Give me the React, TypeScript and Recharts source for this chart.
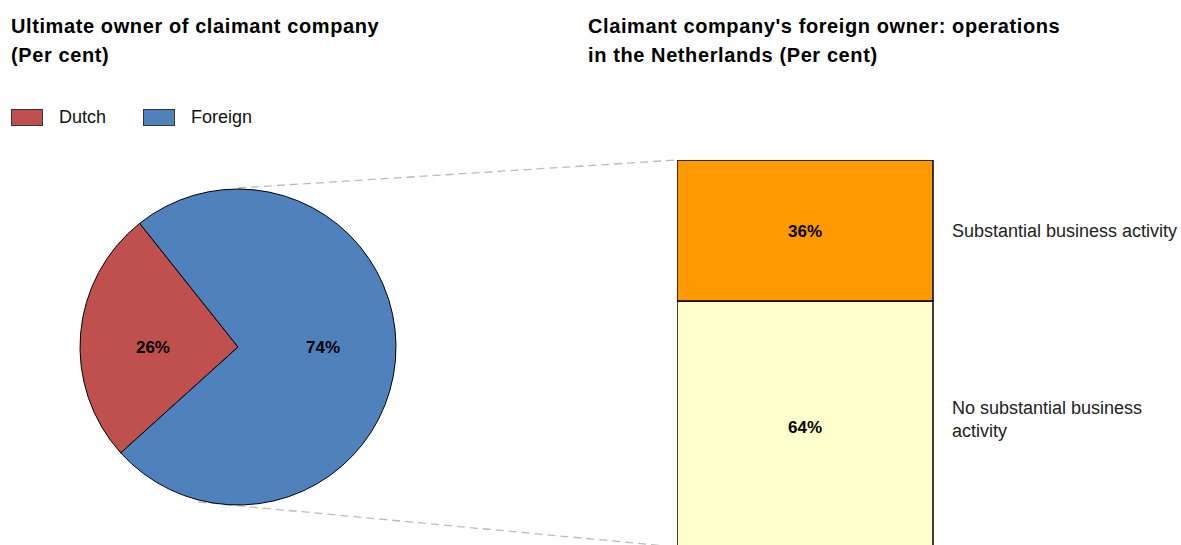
import { PieChart, Pie, Cell, Legend, BarChart, Bar, XAxis, YAxis, LabelList } from "recharts"

// Left panel: ultimate owner of claimant company
const ownerNames = ["Dutch", "Foreign"]
const ownerShares = [26, 74]
const ownerColors = ["#C0504D", "#4F81BD"]

// Right panel: foreign owner's operations in the Netherlands (bottom to top)
const activityKeys = ["none", "substantial"]
const activityLabelLines = [["No substantial business", "activity"], ["Substantial business activity"]]
const activityShares = [64, 36]
const activityColors = ["#FFFFCC", "#FF9900"]

const titles = [
  "Ultimate owner of claimant company\n(Per cent)",
  "Claimant company's foreign owner: operations\nin the Netherlands (Per cent)",
]

const FONT = '"Liberation Sans", Arial, Helvetica, sans-serif'

// layout
const PIE_CX = 238
const PIE_CY = 347
const PIE_R = 158
const LEGEND_H = 20 // legend at top pushes the pie's offset down by its height
const BAR_LEFT = 677
const BAR_TOP = 160
const BAR_W = 256
const BAR_H = 392
const CHART_W = 504
const LINE_H = 23

const pieData = ownerNames.map((name, i) => ({ name, value: ownerShares[i] }))
const barData = [
  activityKeys.reduce(
    (row, k, i) => ({ ...row, [k]: activityShares[i] }),
    { name: "Foreign owner" } as Record<string, string | number>
  ),
]

const RAD = Math.PI / 180

function PieLabel(props: any) {
  const { cx, cy, midAngle, outerRadius, value } = props
  const x = cx + outerRadius * 0.54 * Math.cos(-midAngle * RAD)
  return (
    <text x={x} y={cy} textAnchor="middle" dominantBaseline="central" fontWeight="bold" fontSize={17} fill="#000" fontFamily={FONT}>
      {value}%
    </text>
  )
}

function renderLegend() {
  return (
    <div style={{ display: "flex", height: LEGEND_H, fontFamily: FONT, fontSize: 18, color: "#111", lineHeight: "20px" }}>
      {ownerNames.map((n, i) => (
        <div key={n} style={{ display: "flex", alignItems: "center", marginLeft: i === 0 ? 11 : 0, marginRight: 37 }}>
          <span style={{ display: "inline-block", width: 30, height: 15, background: ownerColors[i], border: "1px solid #333", marginRight: 16 }} />
          <span>{n}</span>
        </div>
      ))}
    </div>
  )
}

function sideLabel(lines: string[]) {
  return (props: any) => {
    const { x, y, width, height } = props
    const n = lines.length
    const mid = Number(y) + Number(height) / 2 - (n > 1 ? 7 : 0)
    return (
      <text x={Number(x) + Number(width) + 19} fontSize={18} fontFamily={FONT} fill="#222">
        {lines.map((l, j) => (
          <tspan key={j} x={Number(x) + Number(width) + 19} y={mid + (j - (n - 1) / 2) * LINE_H} dominantBaseline="central">
            {l}
          </tspan>
        ))}
      </text>
    )
  }
}

export default function App() {
  return (
    <div style={{ position: "absolute", left: 0, top: 0, width: 1181, height: 545, overflow: "hidden", background: "#fff", fontFamily: FONT }}>
      {/* dashed connectors from pie to bar */}
      <svg width={1181} height={545} style={{ position: "absolute", left: 0, top: 0 }}>
        <line x1={PIE_CX} y1={PIE_CY - PIE_R - 1} x2={BAR_LEFT} y2={BAR_TOP} stroke="#BBBBBB" strokeWidth={1.3} strokeDasharray="8 5" />
        <line x1={PIE_CX - 40} y1={PIE_CY + PIE_R - 3} x2={BAR_LEFT} y2={BAR_TOP + BAR_H - 5} stroke="#BBBBBB" strokeWidth={1.3} strokeDasharray="8 5" />
      </svg>

      {titles.map((t, i) => (
        <div
          key={i}
          style={{
            position: "absolute",
            left: i === 0 ? 11 : 588,
            top: 12,
            fontWeight: "bold",
            fontSize: 20,
            letterSpacing: "0.6px",
            lineHeight: "29px",
            whiteSpace: "pre",
            color: "#000",
          }}
        >
          {t}
        </div>
      ))}

      <div style={{ position: "absolute", left: 0, top: 0 }}>
        <PieChart width={480} height={545} margin={{ top: 0, right: 0, bottom: 0, left: 0 }}>
          <Legend verticalAlign="top" align="left" content={renderLegend} wrapperStyle={{ top: 107, left: 0 }} />
          <Pie
            data={pieData}
            dataKey="value"
            nameKey="name"
            cx={PIE_CX}
            cy={PIE_CY - LEGEND_H}
            outerRadius={PIE_R}
            startAngle={128.5}
            endAngle={488.5}
            stroke="#000"
            strokeWidth={1}
            label={PieLabel}
            labelLine={false}
            isAnimationActive={false}
          >
            {pieData.map((d, i) => (
              <Cell key={d.name} fill={ownerColors[i]} />
            ))}
          </Pie>
        </PieChart>
      </div>

      <div style={{ position: "absolute", left: BAR_LEFT, top: BAR_TOP }}>
        <BarChart
          width={CHART_W}
          height={BAR_H}
          data={barData}
          margin={{ top: 0, right: CHART_W - BAR_W, bottom: 0, left: 0 }}
          barCategoryGap={0}
          style={{ overflow: "visible" }}
        >
          <XAxis dataKey="name" hide />
          <YAxis hide domain={[0, 100]} />
          {activityKeys.map((k, i) => (
            <Bar key={k} dataKey={k} stackId="a" fill={activityColors[i]} stroke="#000" strokeWidth={1.5} isAnimationActive={false}>
              <LabelList dataKey={k} position="center" formatter={(v: any) => `${v}%`} fill="#000" fontWeight="bold" fontSize={17} fontFamily={FONT} />
              <LabelList dataKey={k} content={sideLabel(activityLabelLines[i])} />
            </Bar>
          ))}
        </BarChart>
      </div>
    </div>
  )
}
